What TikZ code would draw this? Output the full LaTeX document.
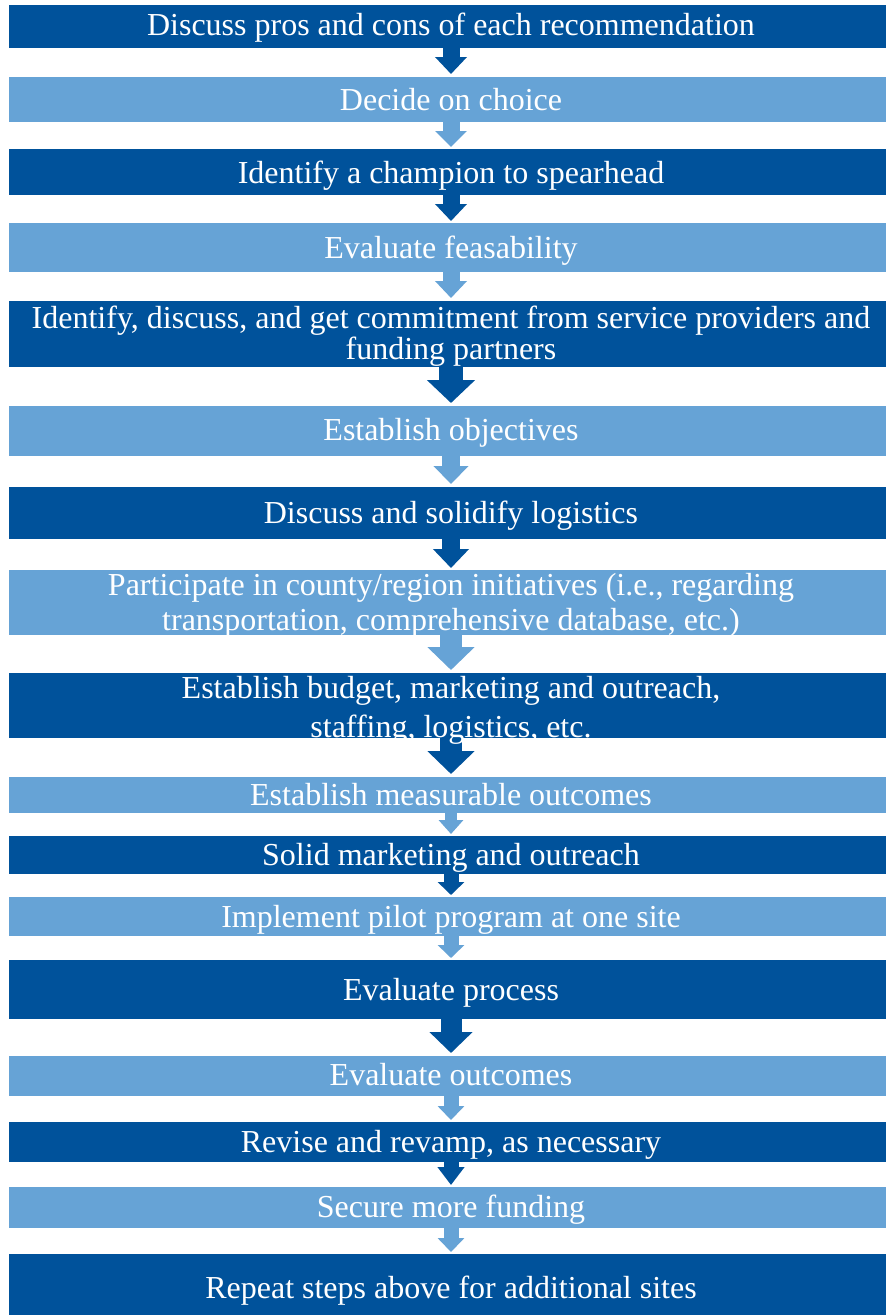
\documentclass[tikz,border=0pt]{standalone}
\usepackage{fontspec}
\setmainfont{Liberation Serif}
\usetikzlibrary{arrows.meta}
\definecolor{dk}{RGB}{0,82,155}
\definecolor{lt}{RGB}{102,163,214}
\newcommand\twoline[3]{\vtop{\baselineskip=#3\relax\lineskiplimit=-100pt\halign{\hfil##\hfil\cr#1\cr#2\cr}}}
\tikzset{
  barbox/.style={rectangle, inner sep=0pt, outer sep=0pt, draw=none, minimum width=884pt},
  dbar/.style={barbox, fill=dk},
  lbar/.style={barbox, fill=lt},
  txt/.style={anchor=base, inner sep=0pt, text=white, font=\fontsize{32}{32}\selectfont},
  blockarrow/.style n args={4}{draw=#1, line width=#2, -{Triangle[width=#3, length=#4, fill=#1]}},
}
\begin{document}
\begin{tikzpicture}[x=1pt, y=-1pt]
\path[use as bounding box, clip] (0,0) rectangle (886,1315);
\fill[white] (0,0) rectangle (886,1315);
% bars
\node[dbar, minimum height=43pt] (b1) at (451,26.5) {};
\node[lbar, minimum height=45pt] (b2) at (451,99.5) {};
\node[dbar, minimum height=46pt] (b3) at (451,172) {};
\node[lbar, minimum height=49pt] (b4) at (451,247.5) {};
\node[dbar, minimum height=66pt] (b5) at (451,334) {};
\node[lbar, minimum height=50pt] (b6) at (451,431) {};
\node[dbar, minimum height=52pt] (b7) at (451,513) {};
\node[lbar, minimum height=65pt] (b8) at (451,602.5) {};
\node[dbar, minimum height=65pt] (b9) at (451,705.5) {};
\node[lbar, minimum height=36pt] (b10) at (451,795) {};
\node[dbar, minimum height=38pt] (b11) at (451,855) {};
\node[lbar, minimum height=39pt] (b12) at (451,916.5) {};
\node[dbar, minimum height=59pt] (b13) at (451,989.5) {};
\node[lbar, minimum height=40pt] (b14) at (451,1076) {};
\node[dbar, minimum height=40pt] (b15) at (451,1142) {};
\node[lbar, minimum height=41pt] (b16) at (451,1207.5) {};
\node[dbar, minimum height=66pt] (b17) at (451,1287) {};
% arrows
\draw[blockarrow={dk}{17pt}{31pt}{17pt}] (b1.south) -- ([yshift=3pt]b2.north);
\draw[blockarrow={lt}{17pt}{31pt}{16pt}] (b2.south) -- ([yshift=2pt]b3.north);
\draw[blockarrow={dk}{17pt}{31pt}{17pt}] (b3.south) -- ([yshift=2pt]b4.north);
\draw[blockarrow={lt}{17pt}{31pt}{17pt}] (b4.south) -- ([yshift=3pt]b5.north);
\draw[blockarrow={dk}{24pt}{47pt}{23pt}] (b5.south) -- ([yshift=3pt]b6.north);
\draw[blockarrow={lt}{18pt}{34pt}{18pt}] (b6.south) -- ([yshift=3pt]b7.north);
\draw[blockarrow={dk}{18pt}{35pt}{19pt}] (b7.south) -- ([yshift=2pt]b8.north);
\draw[blockarrow={lt}{22pt}{46pt}{23pt}] (b8.south) -- ([yshift=3pt]b9.north);
\draw[blockarrow={dk}{22pt}{46pt}{23pt}] (b9.south) -- ([yshift=3pt]b10.north);
\draw[blockarrow={lt}{12pt}{24pt}{14pt}] (b10.south) -- ([yshift=2pt]b11.north);
\draw[blockarrow={dk}{15pt}{26pt}{13pt}] (b11.south) -- ([yshift=2pt]b12.north);
\draw[blockarrow={lt}{15pt}{26pt}{13pt}] (b12.south) -- ([yshift=2pt]b13.north);
\draw[blockarrow={dk}{21pt}{42pt}{21pt}] (b13.south) -- ([yshift=3pt]b14.north);
\draw[blockarrow={lt}{15pt}{26pt}{14pt}] (b14.south) -- ([yshift=2pt]b15.north);
\draw[blockarrow={dk}{15pt}{26pt}{18pt}] (b15.south) -- ([yshift=2pt]b16.north);
\draw[blockarrow={lt}{15pt}{26pt}{14pt}] (b16.south) -- ([yshift=2pt]b17.north);
% texts
\node[txt] (t1) at (451,35) {Discuss pros and cons of each recommendation};
\node[txt] (t2) at (451,110) {Decide on choice};
\node[txt] (t3) at (451,183) {Identify a champion to spearhead};
\node[txt] (t4) at (451,258) {Evaluate feasability};
\node[txt] (t5) at (451,328) {\twoline{Identify, discuss, and get commitment from service providers and}{funding partners}{31pt}};
\node[txt] (t6) at (451,440) {Establish objectives};
\node[txt] (t7) at (451,523) {Discuss and solidify logistics};
\node[txt] (t8) at (451,595) {\twoline{Participate in county/region initiatives (i.e., regarding}{transportation, comprehensive database, etc.)}{35pt}};
\node[txt] (t9) at (451,698) {\twoline{Establish budget, marketing and outreach,}{staffing, logistics, etc.}{39pt}};
\node[txt] (t10) at (451,805) {Establish measurable outcomes};
\node[txt] (t11) at (451,865) {Solid marketing and outreach};
\node[txt] (t12) at (451,927) {Implement pilot program at one site};
\node[txt] (t13) at (451,1000) {Evaluate process};
\node[txt] (t14) at (451,1085) {Evaluate outcomes};
\node[txt] (t15) at (451,1152) {Revise and revamp, as necessary};
\node[txt] (t16) at (451,1217) {Secure more funding};
\node[txt] (t17) at (451,1298) {Repeat steps above for additional sites};
\end{tikzpicture}
\end{document}
